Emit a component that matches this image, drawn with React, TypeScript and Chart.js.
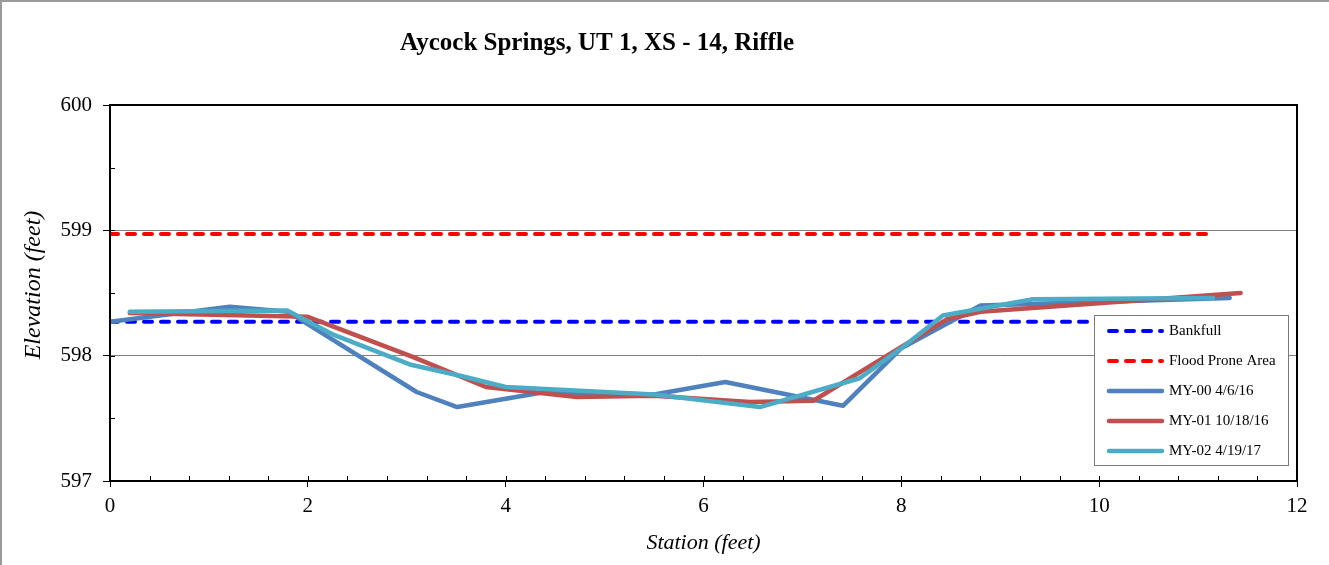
import React, { useEffect, useRef } from "react";
import { Chart, registerables } from "chart.js";

Chart.register(...registerables);

// Cross-section survey data (station in feet, elevation in feet)
const chartTitle = "Aycock Springs, UT 1, XS - 14, Riffle";
const xAxisTitle = "Station (feet)";
const yAxisTitle = "Elevation (feet)";

const bankfullStation = [0, 11.15];
const bankfullElev = [598.27, 598.27];

const floodStation = [0, 11.15];
const floodElev = [598.97, 598.97];

const my00Station = [0, 1.21, 1.8, 3.1, 3.51, 4.4, 5.5, 6.22, 7.41, 8.0, 8.8, 11.32];
const my00Elev = [598.27, 598.39, 598.35, 597.71, 597.59, 597.71, 597.69, 597.79, 597.6, 598.06, 598.4, 598.46];

const my01Station = [0.2, 2.0, 3.06, 3.8, 4.72, 5.5, 6.47, 7.11, 8.0, 8.46, 8.8, 11.43];
const my01Elev = [598.34, 598.31, 597.99, 597.75, 597.67, 597.68, 597.63, 597.64, 598.07, 598.29, 598.35, 598.5];

const my02Station = [0.2, 1.79, 2.25, 3.03, 3.54, 4.0, 5.5, 6.57, 7.58, 8.0, 8.42, 9.33, 11.15];
const my02Elev = [598.35, 598.36, 598.17, 597.93, 597.84, 597.75, 597.69, 597.59, 597.82, 598.06, 598.32, 598.45, 598.46];

const xTicks = [0, 2, 4, 6, 8, 10, 12];
const yTicks = [597, 598, 599, 600];

const serif = "'Liberation Serif', 'Times New Roman', serif";

const toPoints = (xs: number[], ys: number[]) => xs.map((x, i) => ({ x, y: ys[i] }));

// Page frame, plot frame, inner minor ticks, title and vertical axis title
const framePlugin = {
  id: "frame",
  beforeDraw(chart: any) {
    const { ctx, width, height } = chart;
    ctx.save();
    ctx.fillStyle = "#ffffff";
    ctx.fillRect(0, 0, width, height);
    ctx.strokeStyle = "#9a9a9a";
    ctx.lineWidth = 2;
    ctx.beginPath();
    ctx.moveTo(1, height);
    ctx.lineTo(1, 1);
    ctx.lineTo(width, 1);
    ctx.stroke();
    ctx.restore();
  },
  beforeDatasetsDraw(chart: any) {
    const { ctx, chartArea, scales } = chart;
    const xs = scales.x;
    const ys = scales.y;
    ctx.save();
    ctx.strokeStyle = "#000";
    ctx.lineWidth = 1;
    ctx.beginPath();
    for (let v = 0.4; v < 12 - 1e-6; v += 0.4) {
      const px = Math.round(xs.getPixelForValue(v)) + 0.5;
      ctx.moveTo(px, chartArea.bottom);
      ctx.lineTo(px, chartArea.bottom - 5);
    }
    for (let v = 597.5; v < 600; v += 0.5) {
      const py = Math.round(ys.getPixelForValue(v)) + 0.5;
      ctx.moveTo(chartArea.left, py);
      ctx.lineTo(chartArea.left + 5, py);
    }
    ctx.stroke();
    ctx.restore();
  },
  afterDraw(chart: any) {
    const { ctx, chartArea } = chart;
    ctx.save();
    ctx.strokeStyle = "#000";
    ctx.lineWidth = 2;
    ctx.strokeRect(chartArea.left, chartArea.top, chartArea.right - chartArea.left, chartArea.bottom - chartArea.top);

    ctx.fillStyle = "#000";
    ctx.font = `bold 25px ${serif}`;
    ctx.textAlign = "center";
    ctx.textBaseline = "middle";
    ctx.fillText(chartTitle, 597, 44);

    ctx.font = `italic 24px ${serif}`;
    ctx.translate(34, 285);
    ctx.rotate(-Math.PI / 2);
    ctx.fillText(yAxisTitle, 0, 0);
    ctx.restore();
  },
};

// Boxed legend inside the lower-right corner of the plot
const boxLegendPlugin = {
  id: "boxLegend",
  afterDraw(chart: any) {
    const { ctx, chartArea } = chart;
    const left = chartArea.right - 203;
    const right = chartArea.right - 9;
    const top = chartArea.bottom - 166;
    const bottom = chartArea.bottom - 16;
    ctx.save();
    ctx.fillStyle = "#ffffff";
    ctx.fillRect(left, top, right - left, bottom - top);
    ctx.strokeStyle = "#7a7a7a";
    ctx.lineWidth = 1;
    ctx.strokeRect(left + 0.5, top + 0.5, right - left, bottom - top);
    chart.data.datasets.forEach((ds: any, i: number) => {
      const y = top + 16 + i * 30;
      ctx.beginPath();
      ctx.strokeStyle = ds.borderColor;
      ctx.lineWidth = ds.borderWidth;
      ctx.lineCap = "round";
      ctx.setLineDash(ds.borderDash || []);
      ctx.moveTo(left + 15, y);
      ctx.lineTo(left + 68, y);
      ctx.stroke();
      ctx.setLineDash([]);
      ctx.fillStyle = "#000";
      ctx.font = `15px ${serif}`;
      ctx.textAlign = "left";
      ctx.textBaseline = "middle";
      ctx.fillText(ds.label, left + 75, y);
    });
    ctx.restore();
  },
};

export default function App() {
  const canvasRef = useRef<HTMLCanvasElement | null>(null);

  useEffect(() => {
    document.body.style.margin = "0";
    const canvas = canvasRef.current;
    if (!canvas) return;

    const common = { pointRadius: 0, pointHoverRadius: 0, tension: 0, fill: false };

    const chart = new Chart(canvas, {
      type: "line",
      data: {
        datasets: [
          {
            ...common,
            label: "Bankfull",
            data: toPoints(bankfullStation, bankfullElev),
            borderColor: "#0000ff",
            borderWidth: 4,
            borderDash: [8, 9],
            borderCapStyle: "round",
            order: 5,
          },
          {
            ...common,
            label: "Flood Prone Area",
            data: toPoints(floodStation, floodElev),
            borderColor: "#ff0000",
            borderWidth: 4,
            borderDash: [8, 9],
            borderCapStyle: "round",
            order: 4,
          },
          {
            ...common,
            label: "MY-00 4/6/16",
            data: toPoints(my00Station, my00Elev),
            borderColor: "#4f81bd",
            borderWidth: 4.5,
            borderCapStyle: "round",
            borderJoinStyle: "round",
            order: 3,
          },
          {
            ...common,
            label: "MY-01 10/18/16",
            data: toPoints(my01Station, my01Elev),
            borderColor: "#c0504d",
            borderWidth: 4.5,
            borderCapStyle: "round",
            borderJoinStyle: "round",
            order: 2,
          },
          {
            ...common,
            label: "MY-02 4/19/17",
            data: toPoints(my02Station, my02Elev),
            borderColor: "#4bacc6",
            borderWidth: 4.5,
            borderCapStyle: "round",
            borderJoinStyle: "round",
            order: 1,
          },
        ] as any,
      },
      options: {
        animation: false,
        responsive: false,
        devicePixelRatio: 1,
        layout: { padding: { top: 105, right: 32, left: 0, bottom: 0 } },
        plugins: {
          legend: { display: false },
          title: { display: false },
          tooltip: { enabled: false },
        },
        scales: {
          x: {
            type: "linear",
            min: 0,
            max: 12,
            afterBuildTicks: (scale: any) => {
              scale.ticks = xTicks.map((v) => ({ value: v }));
            },
            afterFit: (scale: any) => {
              scale.height = 84;
            },
            border: { display: false },
            grid: {
              drawOnChartArea: false,
              drawTicks: true,
              tickLength: 6,
              tickColor: "#000",
            },
            ticks: {
              color: "#000",
              font: { family: serif, size: 21 },
              padding: 7,
              maxRotation: 0,
            },
            title: {
              display: true,
              text: xAxisTitle,
              color: "#000",
              font: { family: serif, size: 22, style: "italic" },
              padding: { top: 0, bottom: 9 },
            },
          },
          y: {
            type: "linear",
            min: 597,
            max: 600,
            afterBuildTicks: (scale: any) => {
              scale.ticks = yTicks.map((v) => ({ value: v }));
            },
            afterFit: (scale: any) => {
              scale.width = 110;
            },
            border: { display: false },
            grid: {
              drawOnChartArea: true,
              drawTicks: true,
              tickLength: 7,
              tickColor: "#000",
              lineWidth: 1,
              color: (ctx: any) =>
                ctx.tick && (ctx.tick.value === 598 || ctx.tick.value === 599) ? "#808080" : "rgba(0,0,0,0)",
            },
            ticks: {
              color: "#000",
              font: { family: serif, size: 21 },
              padding: 11,
            },
            title: { display: false },
          },
        },
      } as any,
      plugins: [framePlugin, boxLegendPlugin],
    });

    return () => chart.destroy();
  }, []);

  return (
    <div style={{ width: 1329, height: 565 }}>
      <canvas ref={canvasRef} width={1329} height={565} style={{ display: "block" }} />
    </div>
  );
}
